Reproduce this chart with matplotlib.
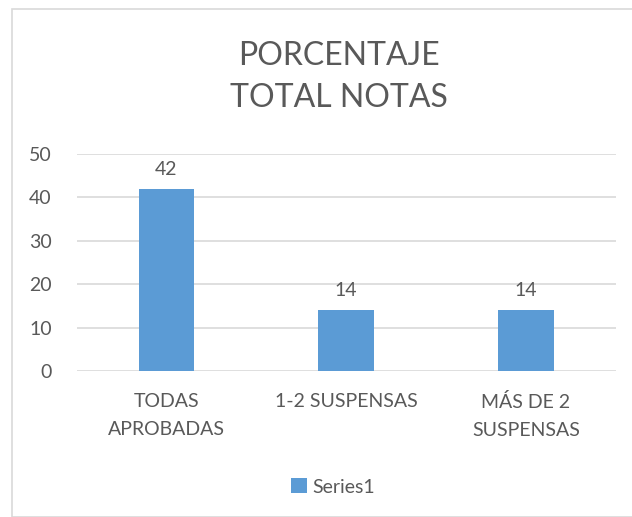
import matplotlib.pyplot as plt
from matplotlib.patches import Rectangle

categories = ["TODAS\nAPROBADAS", "1-2 SUSPENSAS", "MÁS DE 2\nSUSPENSAS"]
values = [42, 14, 14]
series_name = "Series1"
yticks = [0, 10, 20, 30, 40, 50]

plt.rcParams['font.family'] = ['Lato', 'DejaVu Sans']
text_color = '#595959'
bar_color = '#5b9bd5'

W, H = 632, 517
fig = plt.figure(figsize=(W / 100, H / 100), dpi=100)

# chart border
fig.patches.append(Rectangle((12 / W, 0), 1, 1 - 9 / H, transform=fig.transFigure,
                             fill=False, edgecolor='#d9d9d9', linewidth=1.2))

ax = fig.add_axes([76.6 / W, 1 - 371 / H, (615.7 - 76.6) / W, (371 - 154) / H])
x = range(len(categories))
bars = ax.bar(x, values, width=0.31, color=bar_color, label=series_name, zorder=3)
ax.set_xlim(-0.5, len(categories) - 0.5)
ax.set_ylim(0, 50)
ax.set_yticks(yticks)
ax.yaxis.grid(True, color='#d9d9d9', linewidth=1.2, zorder=0)
for s in ax.spines.values():
    s.set_visible(False)
ax.tick_params(axis='both', length=0, labelsize=14, labelcolor=text_color)
ax.tick_params(axis='y', pad=18)
ax.tick_params(axis='x', pad=16)
ax.set_xticks(list(x))
ax.set_xticklabels(categories, linespacing=1.8)

for b, v in zip(bars, values):
    ax.annotate(str(v), (b.get_x() + b.get_width() / 2, v), xytext=(0, 8),
                textcoords='offset points', ha='center', va='bottom',
                fontsize=14, color=text_color)

fig.text(0.537, 1 - 77 / H, "PORCENTAJE\nTOTAL NOTAS", ha='center', va='center',
         fontsize=23, color=text_color, linespacing=1.5)

fig.legend(handles=[bars], labels=[series_name], loc='center',
           bbox_to_anchor=(0.527, 1 - 487 / H), frameon=False, fontsize=14,
           handlelength=0.8, handleheight=0.8, handletextpad=0.3,
           labelcolor=text_color)

fig.savefig('out.png', dpi=100)
